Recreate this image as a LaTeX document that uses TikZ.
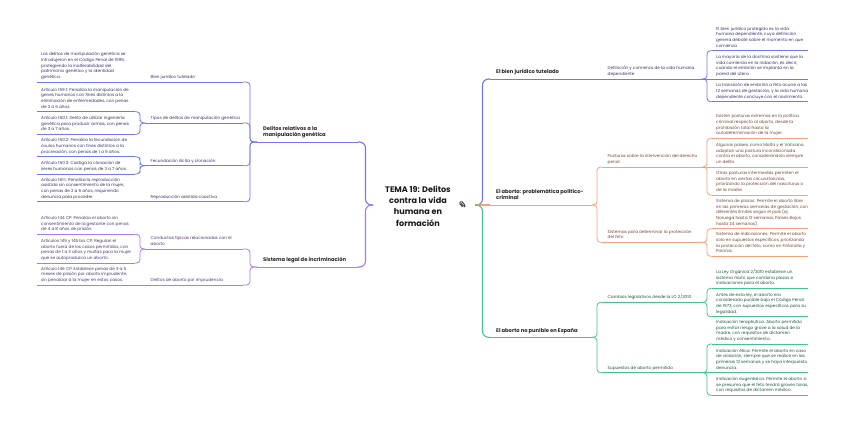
\documentclass[tikz,border=0pt]{standalone}
\usepackage{fontspec}
\setmainfont{Poppins}
\usepackage{tikz}
\usetikzlibrary{positioning,calc}

\definecolor{mblue}{HTML}{7078F0}
\definecolor{mpurple}{HTML}{A67CF0}
\definecolor{morange}{HTML}{F8A07C}
\definecolor{mgreen}{HTML}{48C28C}

\tikzset{
  trazo/.style={draw=#1, line width=0.8pt, rounded corners=3.5pt},
  trazomain/.style={draw=#1, line width=1.1pt, rounded corners=6pt},
  elbow/.style={to path={-| ($(\tikztostart)!.5!(\tikztotarget)$) |- (\tikztotarget)}},
  hoja/.style={inner sep=0pt, text depth=1pt, align=left, xshift=4pt,
    font=\fontsize{4.2}{5.7}\selectfont, text=#1!45!black},
  rama/.style={hoja=#1, xshift=1.5pt},
  tema/.style={inner sep=0pt, text depth=1pt, align=left, xshift=6pt, yshift=1.7pt,
    font=\fontsize{5.2}{6.5}\selectfont\bfseries, text=black!85},
  raiz/.style={align=center, font=\fontsize{8.1}{11.3}\selectfont\bfseries, text=black!90},
}

% texto con subrayado: color, nombre, estilo, x izq, x der, y, texto
\newcommand{\mmitem}[7]{%
  \coordinate (#2-w) at (#4,#6);
  \coordinate (#2-e) at (#5,#6);
  \draw[trazo=#1] (#2-w) -- (#2-e);
  \node[#3=#1, above right=2.3pt and 0pt of #2-w] (#2) {#7};
}

\begin{document}
\begin{tikzpicture}[x=1pt, y=-1pt]
  \fill[white] (0,0) rectangle (848,421);
  \useasboundingbox (0,0) rectangle (848,421);

  \node[raiz] (root) at (418,206) {TEMA 19: Delitos\\contra la vida\\humana en\\formación};
  \coordinate (rl) at (373,205);
  \coordinate (rr) at (475,205);

  % clip
  \draw[black!80, line width=0.8pt, rounded corners=1pt, rotate around={40:(462,204)}]
    (460.5,206.5) -- (460.5,201.5) -- (463.5,201.5) -- (463.5,207.5) -- (461.8,207.5) -- (461.8,203);

  % rama izquierda: manipulacion genetica
  \mmitem{mblue}{gen}{tema}{257}{358}{142}{Delitos relativos a la\\manipulación genética}
  \mmitem{mblue}{bj}{rama}{145}{243}{82}{Bien jurídico tutelado}
  \mmitem{mblue}{bj1}{hoja}{37}{135}{82}{Los delitos de manipulación genética se\\introdujeron en el Código Penal de 1995,\\protegiendo la inalterabilidad del\\patrimonio genético y la identidad\\genética.}
  \mmitem{mblue}{tip}{rama}{145}{243}{123}{Tipos de delitos de manipulación genética}
  \mmitem{mblue}{tip1}{hoja}{37}{135}{111.7}{Artículo 159.1: Penaliza la manipulación de\\genes humanos con fines distintos a la\\eliminación de enfermedades, con penas\\de 2 a 6 años.}
  \mmitem{mblue}{tip2}{hoja}{37}{135}{134.3}{Artículo 160.1: Delito de utilizar ingeniería\\genética para producir armas, con penas\\de 3 a 7 años.}
  \mmitem{mblue}{fec}{rama}{145}{243}{165.7}{Fecundación ilícita y clonación}
  \mmitem{mblue}{fec1}{hoja}{37}{135}{156.7}{Artículo 160.2: Penaliza la fecundación de\\óvulos humanos con fines distintos a la\\procreación, con penas de 1 a 5 años.}
  \mmitem{mblue}{fec2}{hoja}{37}{135}{174}{Artículo 160.3: Castiga la clonación de\\seres humanos con penas de 3 a 7 años.}
  \mmitem{mblue}{rep}{rama}{145}{243}{201.7}{Reproducción asistida coactiva}
  \mmitem{mblue}{rep1}{hoja}{37}{135}{201.7}{Artículo 161.1: Penaliza la reproducción\\asistida sin consentimiento de la mujer,\\con penas de 2 a 6 años, requiriendo\\denuncia para proceder.}

  % rama izquierda: incriminacion
  \mmitem{mpurple}{sis}{tema}{257}{358}{267}{Sistema legal de incriminación}
  \mmitem{mpurple}{con}{rama}{145}{243}{249}{Conductas típicas relacionadas con el\\aborto}
  \mmitem{mpurple}{con1}{hoja}{37}{135}{234.3}{Artículo 144 CP: Penaliza el aborto sin\\consentimiento de la gestante con penas\\de 4 a 8 años de prisión.}
  \mmitem{mpurple}{con2}{hoja}{37}{135}{263}{Artículos 145 y 145 bis CP: Regulan el\\aborto fuera de los casos permitidos, con\\penas de 1 a 3 años y multas para la mujer\\que se autoproduzca un aborto.}
  \mmitem{mpurple}{imp}{rama}{145}{243}{285}{Delitos de aborto por imprudencia}
  \mmitem{mpurple}{imp1}{hoja}{37}{135}{285}{Artículo 146 CP: Establece penas de 3 a 5\\meses de prisión por aborto imprudente,\\sin penalizar a la mujer en estos casos.}

  % rama derecha: bien juridico
  \mmitem{mblue}{bien}{tema}{490}{592}{79}{El bien jurídico tutelado}
  \mmitem{mblue}{def}{rama}{602}{702}{79}{Definición y comienzo de la vida humana\\dependiente}
  \mmitem{mblue}{def1}{hoja}{712}{808}{50.7}{El bien jurídico protegido es la vida\\humana dependiente, cuya definición\\genera debate sobre el momento en que\\comienza.}
  \mmitem{mblue}{def2}{hoja}{712}{808}{79}{La mayoría de la doctrina sostiene que la\\vida comienza en la nidación, es decir,\\cuando el embrión se implanta en la\\pared del útero.}
  \mmitem{mblue}{def3}{hoja}{712}{808}{101.7}{La transición de embrión a feto ocurre a las\\12 semanas de gestación, y la vida humana\\dependiente concluye con el nacimiento.}

  % rama derecha: problematica
  \mmitem{morange}{abo}{tema}{490}{592}{205}{El aborto: problemática político-\\criminal}
  \mmitem{morange}{pos}{rama}{602}{702}{167}{Posturas sobre la intervención del derecho\\penal}
  \mmitem{morange}{pos1}{hoja}{712}{808}{138.3}{Existen posturas extremas en la política\\criminal respecto al aborto, desde la\\prohibición total hasta la\\autodeterminación de la mujer.}
  \mmitem{morange}{pos2}{hoja}{712}{808}{167}{Algunos países, como Malta y el Vaticano,\\adoptan una postura incondicionada\\contra el aborto, considerándolo siempre\\un delito.}
  \mmitem{morange}{pos3}{hoja}{712}{808}{195}{Otras posturas intermedias permiten el\\aborto en ciertas circunstancias,\\priorizando la protección del nasciturus o\\de la madre.}
  \mmitem{morange}{pro}{rama}{602}{702}{242.3}{Sistemas para determinar la protección\\del feto}
  \mmitem{morange}{pro1}{hoja}{712}{808}{228.7}{Sistema de plazos: Permite el aborto libre\\en las primeras semanas de gestación, con\\diferentes límites según el país (ej.\\Noruega hasta 12 semanas, Países Bajos\\hasta 24 semanas).}
  \mmitem{morange}{pro2}{hoja}{712}{808}{256.3}{Sistema de indicaciones: Permite el aborto\\solo en supuestos específicos, priorizando\\la protección del feto, como en Finlandia y\\Polonia.}

  % rama derecha: aborto no punible
  \mmitem{mgreen}{esp}{tema}{490}{592}{337.3}{El aborto no punible en España}
  \mmitem{mgreen}{cam}{rama}{602}{702}{302.3}{Cambios legislativos desde la LO 2/2010}
  \mmitem{mgreen}{cam1}{hoja}{712}{808}{288.3}{La Ley Orgánica 2/2010 establece un\\sistema mixto que combina plazos e\\indicaciones para el aborto.}
  \mmitem{mgreen}{cam2}{hoja}{712}{808}{316.7}{Antes de esta ley, el aborto era\\considerado punible bajo el Código Penal\\de 1973, con supuestos específicos para su\\legalidad.}
  \mmitem{mgreen}{sup}{rama}{602}{702}{372.7}{Supuestos de aborto permitido}
  \mmitem{mgreen}{sup1}{hoja}{712}{808}{344}{Indicación terapéutica: Aborto permitido\\para evitar riesgo grave a la salud de la\\madre, con requisitos de dictamen\\médico y consentimiento.}
  \mmitem{mgreen}{sup2}{hoja}{712}{808}{372.7}{Indicación ética: Permite el aborto en caso\\de violación, siempre que se realice en las\\primeras 12 semanas y se haya interpuesto\\denuncia.}
  \mmitem{mgreen}{sup3}{hoja}{712}{808}{395.3}{Indicación eugenésica: Permite el aborto si\\se presuma que el feto tendrá graves taras,\\con requisitos de dictamen médico.}

  % conexiones
  \draw[trazomain=mblue] (rl) to[elbow] (gen-e);
  \draw[trazomain=mpurple] (rl) to[elbow] (sis-e);
  \draw[trazomain=mblue] (rr) to[elbow] (bien-w);
  \draw[trazomain=morange] (rr) -- (abo-w);
  \draw[trazomain=mgreen] (rr) to[elbow] (esp-w);

  \foreach \a/\b in {gen-w/bj-e, gen-w/tip-e, gen-w/fec-e, gen-w/rep-e,
                     tip-w/tip1-e, tip-w/tip2-e, fec-w/fec1-e, fec-w/fec2-e}
    \draw[trazo=mblue] (\a) to[elbow] (\b);
  \draw[trazo=mblue] (bj-w) -- (bj1-e);
  \draw[trazo=mblue] (rep-w) -- (rep1-e);

  \foreach \a/\b in {sis-w/con-e, sis-w/imp-e, con-w/con1-e, con-w/con2-e}
    \draw[trazo=mpurple] (\a) to[elbow] (\b);
  \draw[trazo=mpurple] (imp-w) -- (imp1-e);

  \draw[trazo=mblue] (bien-e) -- (def-w);
  \draw[trazo=mblue] (def-e) to[elbow] (def1-w);
  \draw[trazo=mblue] (def-e) -- (def2-w);
  \draw[trazo=mblue] (def-e) to[elbow] (def3-w);

  \foreach \a/\b in {abo-e/pos-w, abo-e/pro-w, pos-e/pos1-w, pos-e/pos3-w,
                     pro-e/pro1-w, pro-e/pro2-w}
    \draw[trazo=morange] (\a) to[elbow] (\b);
  \draw[trazo=morange] (pos-e) -- (pos2-w);

  \foreach \a/\b in {esp-e/cam-w, esp-e/sup-w, cam-e/cam1-w, cam-e/cam2-w,
                     sup-e/sup1-w, sup-e/sup3-w}
    \draw[trazo=mgreen] (\a) to[elbow] (\b);
  \draw[trazo=mgreen] (sup-e) -- (sup2-w);
\end{tikzpicture}
\end{document}
